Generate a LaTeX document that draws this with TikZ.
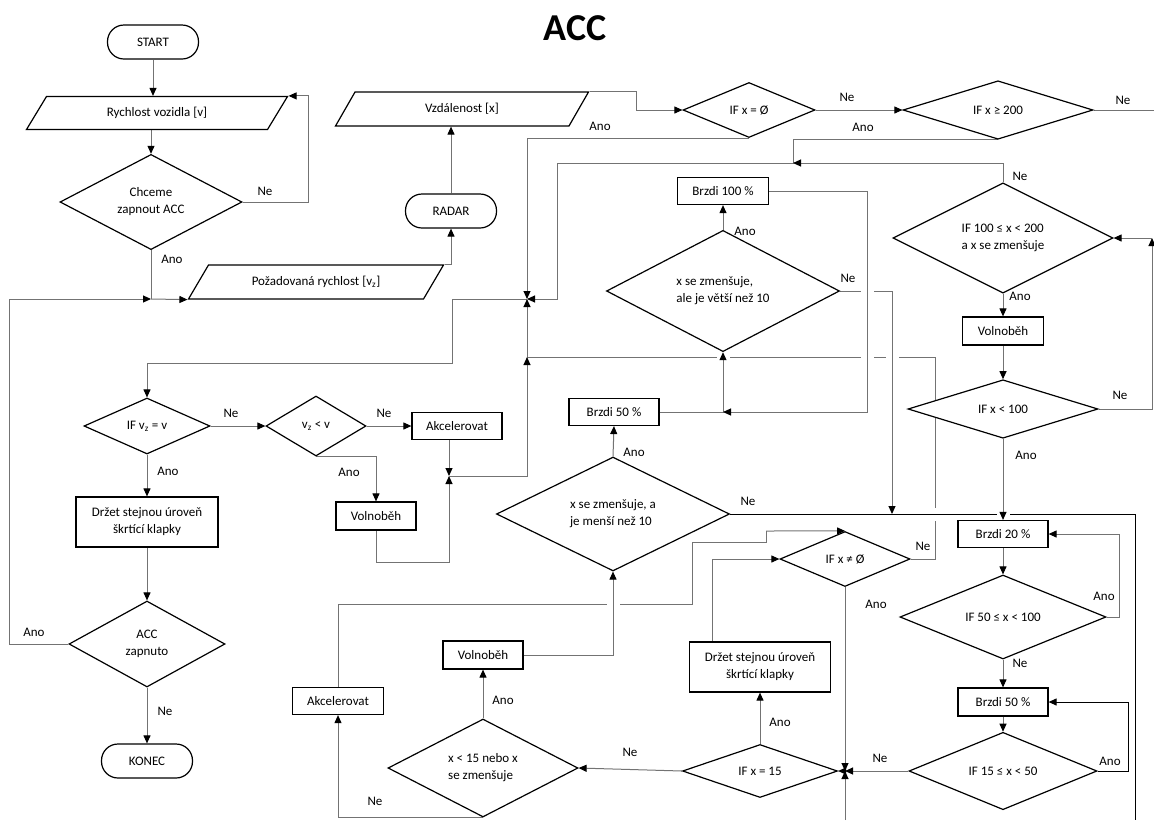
\documentclass[tikz,border=0pt]{standalone}
\usepackage{fontspec}
\setmainfont{Carlito}
\usetikzlibrary{shapes.geometric,arrows.meta,backgrounds}

\tikzset{
	box/.style={rectangle,draw,line width=1.2pt,fill=white,minimum width=90pt,minimum height=27pt,inner sep=2pt},
	term/.style={rectangle,rounded corners=16.5pt,draw,line width=1.2pt,fill=white,minimum width=91pt,minimum height=34pt},
	io/.style={trapezium,trapezium left angle=34,trapezium right angle=146,trapezium stretches body,draw,line width=1.2pt,fill=white,minimum width=255pt,minimum height=34pt,inner sep=1pt},
	dec/.style={diamond,draw,line width=1.2pt,fill=white,inner sep=0pt,align=center},
	lbl/.style={inner sep=0pt},
	conn/.style={draw=black!55,line width=1pt},
	arr/.style={conn,-{Triangle[length=8pt,width=7pt,color=black]}},
	gap/.style={preaction={draw=white,line width=13pt,arrows=-,shorten >=2pt}},
}

\begin{document}
\begin{tikzpicture}[x=1pt,y=-1pt,font=\fontsize{13}{17}\selectfont]
	\useasboundingbox (0,0) rectangle (1154,820);

	\node[font=\fontsize{38}{40}\selectfont\bfseries] (title) at (575,28) {ACC};

	% levy sloupec
	\node[term] (start) at (153,42) {START};
	\node[io,minimum width=261pt,minimum height=33pt] (rych) at (157,113) {Rychlost vozidla [v]};
	\node[dec,minimum width=182pt,minimum height=86pt] (chceme) at (151,202) {Chceme\\zapnout ACC};
	\node[io] (pozad) at (316,282) {Požadovaná rychlost [v\textsubscript{z}]};
	\node[term] (radar) at (451,211) {RADAR};
	\node[io,minimum width=253pt] (vzdal) at (462,109) {Vzdálenost [x]};
	\node[dec,minimum width=126pt,minimum height=56pt] (ifvz) at (147,426) {IF v\textsubscript{z} = v};
	\node[dec,minimum width=100pt,minimum height=60pt] (vzlt) at (316,426) {v\textsubscript{z} < v};
	\node[box] (akcA) at (457,426) {Akcelerovat};
	\node[box,minimum width=142pt,minimum height=50pt,align=center] (drzA) at (147,522) {Držet stejnou úroveň\\škrtící klapky};
	\node[box,minimum width=80pt,minimum height=28pt] (volA) at (376,516) {Volnoběh};
	\node[dec,minimum width=156pt,minimum height=86pt] (acczap) at (147,644) {ACC\\zapnuto};
	\node[term] (konec) at (147,761) {KONEC};

	% stred
	\node[dec,minimum width=132pt,minimum height=55pt] (ifnull) at (749,110) {IF x = Ø};
	\node[dec,minimum width=190pt,minimum height=57pt] (if200) at (998,110) {IF x ≥ 200};
	\node[box,minimum width=91pt] (brzA) at (723,191) {Brzdi 100 \%};
	\node[dec,minimum width=233pt,minimum height=92pt,align=left] (vetsi) at (723,291) {x se zmenšuje,\\ale je větší než 10};
	\node[box] (brzB) at (614,412) {Brzdi 50 \%};
	\node[dec,minimum width=233pt,minimum height=92pt,align=left] (mensi) at (613,514) {x se zmenšuje, a\\je menší než 10};
	\node[dec,minimum width=130pt,minimum height=55pt] (ifnenull) at (845,559) {IF x ≠ Ø};
	\node[box,minimum width=141pt,minimum height=50pt,align=center] (drzB) at (760,667) {Držet stejnou úroveň\\škrtící klapky};
	\node[dec,minimum width=155pt,minimum height=53pt] (ifeq) at (760,771) {IF x = 15};
	\node[dec,minimum width=190pt,minimum height=98pt,align=left] (lt15) at (483,768) {x < 15 nebo x\\se zmenšuje};
	\node[box,minimum width=80pt,minimum height=28pt] (volB) at (483,655) {Volnoběh};
	\node[box,minimum width=91pt] (akcB) at (338,701) {Akcelerovat};

	% pravy sloupec
	\node[dec,minimum width=220pt,minimum height=87pt,align=left] (if100) at (1003,238) {IF 100 ≤ x < 200\\a x se zmenšuje};
	\node[box,minimum width=81pt,minimum height=28pt] (volR) at (1003,331) {Volnoběh};
	\node[dec,minimum width=190pt,minimum height=56pt] (iflt) at (1003,409) {IF x < 100};
	\node[box] (brzC) at (1003,534) {Brzdi 20 \%};
	\node[dec,minimum width=206pt,minimum height=60pt] (if50) at (1003,617) {IF 50 ≤ x < 100};
	\node[box,minimum height=28pt] (brzD) at (1003,702) {Brzdi 50 \%};
	\node[dec,minimum width=188pt,minimum height=58pt] (if15) at (1003,771) {IF 15 ≤ x < 50};

	% uzly spojeni
	\coordinate (j0) at (151,299);
	\coordinate (j1) at (527,299);
	\coordinate (j2) at (449,476);
	\coordinate (j3) at (527,357);
	\coordinate (j4) at (723,412);
	\coordinate (j5) at (845,771);
	\coordinate (j6) at (793,163);
	\coordinate (c892) at (892,514);
	\coordinate (c1152) at (1152,238);
	\coordinate (out200) at (1154,110);
	\coordinate (end510) at (1135,820);
	\coordinate (bot5) at (845,820);

	% popisky
	\node[lbl] (ne1) at (265,191) {Ne};
	\node[lbl] (ano1) at (172,259) {Ano};
	\node[lbl] (ano2) at (34,632) {Ano};
	\node[lbl] (ne2) at (165,711) {Ne};
	\node[lbl] (ne3) at (231,413) {Ne};
	\node[lbl] (ano3) at (168,471) {Ano};
	\node[lbl] (ne4) at (384,413) {Ne};
	\node[lbl] (ano4) at (349,472) {Ano};
	\node[lbl] (ano5) at (600,126) {Ano};
	\node[lbl] (ne5) at (847,97) {Ne};
	\node[lbl] (ne6) at (1123,100) {Ne};
	\node[lbl] (ano6) at (863,127) {Ano};
	\node[lbl] (ne7) at (1020,176) {Ne};
	\node[lbl] (ano7) at (1020,296) {Ano};
	\node[lbl] (ano8) at (745,231) {Ano};
	\node[lbl] (ne8) at (848,278) {Ne};
	\node[lbl] (ano9) at (634,452) {Ano};
	\node[lbl] (ne9) at (748,501) {Ne};
	\node[lbl] (ne10) at (1120,395) {Ne};
	\node[lbl] (ano10) at (1026,455) {Ano};
	\node[lbl] (ne11) at (923,546) {Ne};
	\node[lbl] (ano11) at (876,604) {Ano};
	\node[lbl] (ano12) at (1104,596) {Ano};
	\node[lbl] (ne12) at (1020,663) {Ne};
	\node[lbl] (ano13) at (1110,761) {Ano};
	\node[lbl] (ne13) at (880,758) {Ne};
	\node[lbl] (ano14) at (780,722) {Ano};
	\node[lbl] (ne14) at (630,752) {Ne};
	\node[lbl] (ano15) at (503,700) {Ano};
	\node[lbl] (ne15) at (375,801) {Ne};

	\begin{scope}[on background layer]
		% cary, ktere jsou prerusene
		\draw[conn] (ifnenull.east) -- ++(25,0) |- (j3);
		\draw[conn] (akcB.north) |- (692,604) |- (766,542) -- (766,531);
		\draw[arr] (766,531) -- (ifnenull.north);
		\draw[conn,gap,draw=black] (mensi.east) -- (end510 |- mensi.east) -- (end510);
		\draw[arr,gap] (vetsi.east) -| (c892);
		\draw[arr,gap] (brzB.east) -- (j4) -- (vetsi.south);
		\draw[arr,gap] (brzA.east) -- ++(98,0) |- (j4);
		\draw[arr,gap] (iflt.south) -- (brzC.north);
		\draw[arr,gap] (volB.east) -| (mensi.south);

		% ostatni spoje
		\draw[arr] (start.south) -- (start.south |- rych.north);
		\draw[arr] (chceme.north |- rych.south) -- (chceme.north);
		\draw[arr] (chceme.east) -- ++(66,0) |- (rych.top right corner);
		\draw[conn] (chceme.south) -- (j0);
		\draw[arr] (acczap.west) -- ++(-59,0) |- (j0);
		\draw[arr] (j0) -- (pozad.bottom left corner);
		\draw[arr] (pozad.top right corner) -| (radar.south);
		\draw[arr] (radar.north) -- (radar.north |- vzdal.south);
		\draw[arr] (vzdal.top right corner) -- ++(47,0) |- (ifnull.west);
		\draw[arr] (ifnull.east) -- (if200.west);
		\draw[conn] (if200.east) -- (out200);
		\draw[arr] (ifnull.south) -| (j1);
		\draw[arr] (if200.south) -| (j6) -- ++(-236,0) |- (j1);
		\draw[arr] (if100.north) |- (j6);
		\draw[arr] (j1) -- ++(-75,0) -- ++(0,64) -| (ifvz.north);
		\draw[arr] (ifvz.east) -- (vzlt.west);
		\draw[arr] (vzlt.east) -- (akcA.west);
		\draw[arr] (vzlt.south) -| (volA.north);
		\draw[arr] (ifvz.south) -- (drzA.north);
		\draw[arr] (j2 |- akcA.south) -- (j2);
		\draw[arr] (volA.south) -- ++(0,32) -| (j2);
		\draw[arr] (j2) -| (j3);
		\draw[arr] (j3) -- (j1);
		\draw[arr] (drzA.south) -- (acczap.north);
		\draw[arr] (acczap.south) -- (konec.north);

		\draw[arr] (vetsi.north) -- (brzA.south);
		\draw[arr] (mensi.north) -- (brzB.south);
		\draw[arr] (if100.south) -- (volR.north);
		\draw[arr] (volR.south) -- (iflt.north);
		\draw[arr] (iflt.east) -| (c1152);
		\draw[arr] (c1152) -- (if100.east);
		\draw[arr] (brzC.south) -- (if50.north);
		\draw[arr] (if50.east) -- ++(13,0) |- (brzC.east);
		\draw[arr] (if50.south) -- (brzD.north);
		\draw[arr] (brzD.south) -- (if15.north);
		\draw[arr,draw=black] (if15.east) -- ++(31,0) |- (brzD.east);
		\draw[arr] (if15.west) -- (j5);
		\draw[arr] (ifnenull.south) -- (j5);
		\draw[arr] (bot5) -- (j5);
		\draw[arr] (j5) -- (ifeq.east);
		\draw[arr] (ifeq.north) -- (drzB.south);
		\draw[arr] (ifeq.west) -- (lt15.east);
		\draw[arr] (lt15.north) -- (volB.south);
		\draw[arr] (lt15.south) -| (akcB.south);
		\draw[arr] ([xshift=-48pt]drzB.north) |- (ifnenull.west);
	\end{scope}
\end{tikzpicture}
\end{document}
